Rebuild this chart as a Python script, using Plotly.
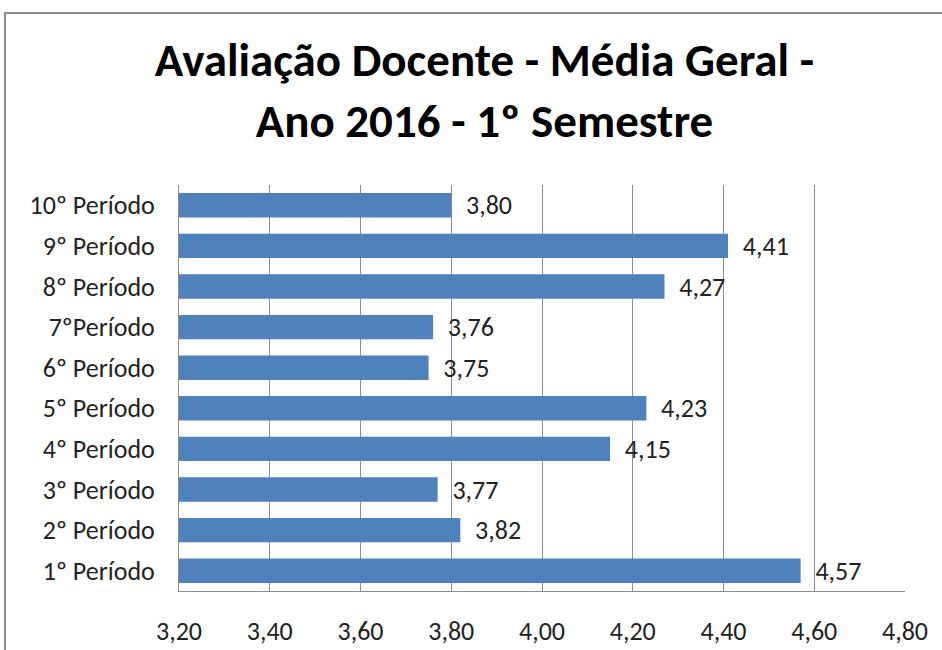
import plotly.graph_objects as go

categories = ["1º Período", "2º Período", "3º Período", "4º Período", "5º Período",
              "6º Período", "7ºPeríodo", "8º Período", "9º Período", "10º Período"]
values = [4.57, 3.82, 3.77, 4.15, 4.23, 3.75, 3.76, 4.27, 4.41, 3.80]
x_ticks = [3.2, 3.4, 3.6, 3.8, 4.0, 4.2, 4.4, 4.6, 4.8]
title_lines = ["Avaliação Docente - Média Geral -", "Ano 2016 - 1º Semestre"]

FONT = "Carlito, Lato, Liberation Sans, sans-serif"

fig = go.Figure(go.Bar(
    x=values, y=categories, orientation="h",
    marker=dict(color="#4F81BD", line=dict(width=0)),
    text=values, texttemplate="\u00a0\u00a0%{x:.2f}", textposition="outside",
    textfont=dict(size=26, color="#222222", family=FONT),
    constraintext="none",
    cliponaxis=False,
))

fig.update_layout(
    width=942, height=650,
    margin=dict(l=179, r=37, t=185, b=59, autoexpand=False),
    paper_bgcolor="white", plot_bgcolor="white",
    separators=",.",
    bargap=0.4,
    showlegend=False,
    font=dict(family=FONT, size=26, color="#222222"),
    title=dict(text="<br>".join(title_lines), x=0.5143, xanchor="center",
               y=0.883, yanchor="middle",
               font=dict(family=FONT, size=47, color="#000000", weight="bold")),
    xaxis=dict(range=[3.2, 4.8], tickvals=x_ticks, tickformat=".2f",
               showgrid=True, gridcolor="#8c8c8c", gridwidth=1,
               showline=True, linecolor="#8c8c8c", linewidth=1, mirror=False,
               zeroline=False, ticks="", ticklen=0, tickfont=dict(size=26),
               ticklabelstandoff=17, automargin=False),
    yaxis=dict(showline=True, linecolor="#8c8c8c", linewidth=1,
               ticks="", tickfont=dict(size=26), ticklabelstandoff=18,
               automargin=False),
    shapes=[dict(type="rect", xref="paper", yref="paper",
                 x0=-0.2397, x1=2, y0=-1, y1=1.4236,
                 line=dict(color="#8c8c8c", width=2), layer="below")],
)

fig.write_html("out.html", config={"displayModeBar": False},
               post_script="document.body.style.margin='0px';")
